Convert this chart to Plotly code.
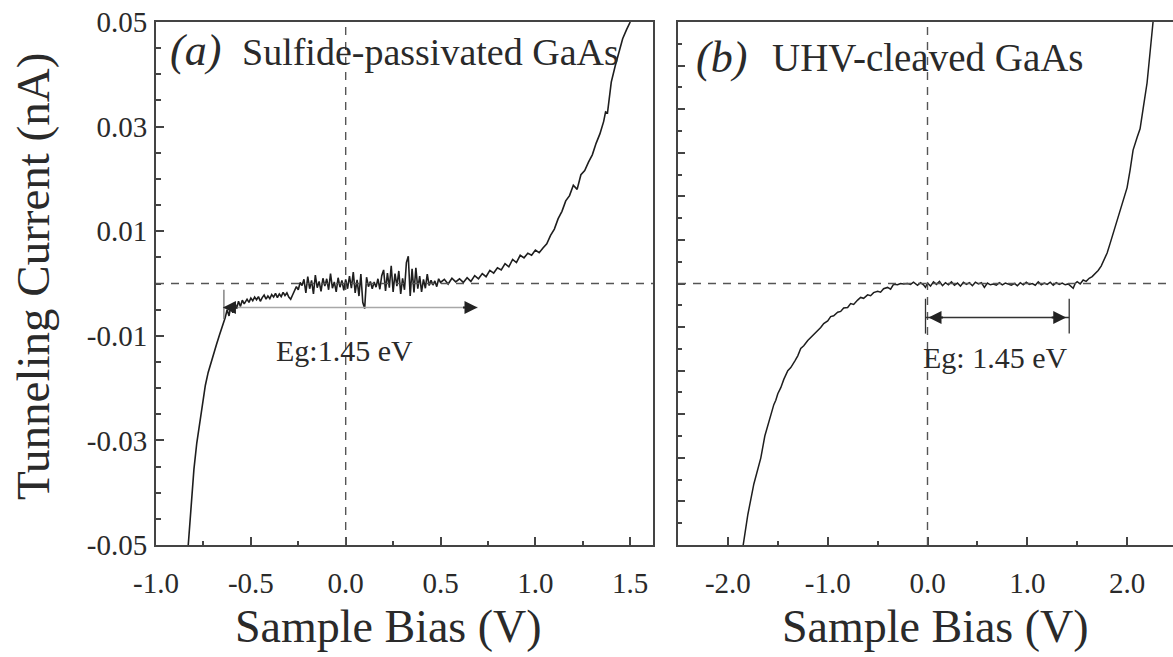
import plotly.graph_objects as go

# ---------------- data ----------------
# Panel (a): sulfide-passivated GaAs  (V, nA)
bias_a = [-0.830, -0.815, -0.800, -0.785, -0.770, -0.755, -0.740, -0.725, -0.710, -0.695,
          -0.680, -0.665, -0.650, -0.635, -0.625, -0.615, -0.605, -0.595, -0.585, -0.575,
          -0.565, -0.555, -0.545, -0.535, -0.52, -0.51, -0.50, -0.49, -0.48, -0.47,
          -0.46, -0.45, -0.44, -0.43, -0.42, -0.41, -0.40, -0.39, -0.38, -0.37,
          -0.36, -0.35, -0.34, -0.33, -0.32, -0.31, -0.30, -0.29, -0.28, -0.27,
          -0.26, -0.25, -0.24, -0.23, -0.22, -0.21, -0.20, -0.19, -0.18, -0.17,
          -0.16, -0.15, -0.14, -0.13, -0.12, -0.11, -0.10, -0.09, -0.08, -0.07,
          -0.06, -0.05, -0.04, -0.03, -0.02, -0.01, 0.00, 0.01, 0.02, 0.03,
          0.04, 0.05, 0.06, 0.07, 0.08, 0.09, 0.10, 0.11, 0.12, 0.13,
          0.14, 0.15, 0.16, 0.17, 0.18, 0.19, 0.20, 0.21, 0.22, 0.23,
          0.24, 0.25, 0.26, 0.27, 0.28, 0.29, 0.30, 0.31, 0.32, 0.33,
          0.34, 0.35, 0.36, 0.37, 0.38, 0.39, 0.40, 0.41, 0.42, 0.43,
          0.44, 0.45, 0.46, 0.47, 0.48, 0.49, 0.50, 0.52, 0.54, 0.56,
          0.58, 0.60, 0.62, 0.64, 0.66, 0.68, 0.70, 0.72, 0.74, 0.76,
          0.78, 0.80, 0.82, 0.84, 0.86, 0.88, 0.90, 0.92, 0.94, 0.96,
          0.98, 1.00, 1.02, 1.04, 1.06, 1.08, 1.10, 1.12, 1.14, 1.16,
          1.18, 1.20, 1.22, 1.24, 1.26, 1.28, 1.30, 1.32, 1.34, 1.36,
          1.37, 1.38, 1.39, 1.40, 1.42, 1.44, 1.46, 1.48, 1.50]
current_a_pA = [-50.0, -42.0, -35.5, -30.5, -27.0, -23.0, -19.5, -17.0, -15.0, -13.2,
                -11.5, -9.8, -8.2, -6.5, -5.0, -6.2, -4.2, -5.6, -3.6, -4.8,
                -3.4, -4.4, -3.2, -3.9, -3.0, -3.6, -2.8, -3.3, -2.6, -3.1,
                -2.5, -3.4, -2.7, -2.2, -3.0, -2.4, -2.9, -2.1, -2.6, -1.9,
                -2.7, -2.0, -2.5, -1.7, -2.3, -1.8, -2.6, -3.0, -2.2, -1.5,
                -0.6, -1.2, 0.2, -0.4, 0.8, -1.8, 1.3, -1.0, 0.6, -2.0,
                1.6, -0.8, 0.4, -1.5, 1.0, -0.5, 0.9, -1.2, 1.9, -0.9,
                0.3, -1.6, 1.1, -0.7, 0.6, -1.3, 0.8, -1.0, 1.4, -0.9,
                2.2, -1.8, 0.7, -2.4, 1.8, -3.6, -4.8, 1.2, -0.6, 0.4,
                -1.0, 0.3, -0.7, 0.9, -1.1, 1.5, 2.6, -1.4, 2.0, -0.8,
                3.4, -1.6, 1.9, -0.5, 2.4, -2.0, 1.0, -1.2, 4.0, 5.2,
                -2.4, 2.8, -1.7, 3.0, -1.0, 1.4, -1.6, 0.8, -0.9, 1.8,
                -0.4, 0.6, -0.3, 0.5, -0.6, 0.9, 0.2, 0.8, -0.1, 1.0,
                0.3, 0.9, 0.2, 1.1, 0.4, 1.5, 0.9, 1.9, 1.3, 2.5,
                2.0, 3.0, 2.6, 3.8, 3.2, 4.6, 4.0, 5.4, 4.9, 5.8,
                5.4, 6.4, 5.9, 6.8, 7.6, 9.2, 10.4, 12.4, 13.8, 15.8,
                16.8, 18.8, 18.0, 20.8, 21.6, 23.2, 24.6, 26.8, 28.6, 31.0,
                32.8, 32.6, 36.0, 38.5, 41.5, 44.0, 46.8, 48.5, 50.0]
current_a = [v / 1000.0 for v in current_a_pA]

# Panel (b): UHV-cleaved GaAs
bias_b = [-1.86, -1.80, -1.74, -1.70, -1.67, -1.63, -1.60, -1.57, -1.54, -1.52,
          -1.50, -1.47, -1.44, -1.40, -1.37, -1.33, -1.30, -1.27, -1.24, -1.20,
          -1.17, -1.14, -1.10, -1.07, -1.04, -1.00, -0.97, -0.94, -0.90, -0.87,
          -0.84, -0.80, -0.77, -0.74, -0.70, -0.67, -0.64, -0.60, -0.57, -0.54,
          -0.50, -0.47, -0.44, -0.40, -0.37, -0.34, -0.30, -0.27, -0.24, -0.20,
          -0.17, -0.14, -0.10, -0.07, -0.04, -0.02, 0.00, 0.03, 0.06, 0.09,
          0.12, 0.15, 0.18, 0.21, 0.24, 0.27, 0.30, 0.33, 0.36, 0.39,
          0.42, 0.45, 0.48, 0.51, 0.54, 0.57, 0.60, 0.63, 0.66, 0.69,
          0.72, 0.75, 0.78, 0.81, 0.84, 0.87, 0.90, 0.93, 0.96, 0.99,
          1.02, 1.05, 1.08, 1.11, 1.14, 1.17, 1.20, 1.23, 1.26, 1.29,
          1.32, 1.35, 1.38, 1.41, 1.44, 1.46, 1.48, 1.50, 1.53, 1.56,
          1.59, 1.62, 1.65, 1.68, 1.71, 1.74, 1.77, 1.80, 1.83, 1.86,
          1.90, 1.93, 1.96, 2.00, 2.03, 2.06, 2.10, 2.13, 2.16, 2.20,
          2.23, 2.26]
current_b_pA = [-62.0, -53.0, -46.0, -42.5, -40.0, -35.0, -32.5, -30.0, -27.8, -26.8,
                -25.3, -23.9, -22.0, -20.0, -19.3, -17.8, -16.6, -14.9, -14.3, -13.1,
                -12.4, -11.8, -10.8, -10.1, -9.2, -8.6, -7.6, -7.4, -6.6, -6.4,
                -5.6, -5.5, -4.6, -4.8, -3.8, -3.2, -3.4, -2.6, -2.8, -2.1,
                -1.8, -2.0, -1.2, -0.9, -1.3, -0.2, -0.3, 0.0, -0.1, 0.0,
                -0.2, 0.3, -0.4, 0.2, -0.3, -0.9, 0.1, -0.6, 0.4, -0.2,
                0.5, -0.5, 0.2, -0.3, 0.4, -0.4, 0.1, -0.6, 0.3, -0.2,
                0.2, -0.5, 0.3, -0.1, 0.2, -0.9, 0.1, -0.3, -0.1, -0.4,
                0.2, -0.3, 0.1, -0.2, -0.4, 0.0, -0.5, 0.2, -0.3, 0.3,
                -0.2, 0.0, -0.4, 0.4, -0.3, 0.1, -0.2, 0.3, -0.4, 0.2,
                -0.2, 0.1, -0.3, -0.1, -0.8, -1.1, 0.0, 0.4, -0.1, 0.8,
                0.5, 1.2, 1.6, 2.2, 3.0, 4.0, 5.4, 7.0, 9.2, 11.5,
                14.5, 16.8, 19.0, 22.0, 26.0, 30.6, 33.5, 35.5, 40.0, 46.0,
                53.0, 60.0]
current_b = [v / 1000.0 for v in current_b_pA]

xticks_a = [-1.0, -0.5, 0.0, 0.5, 1.0, 1.5]
xticklabels_a = ["-1.0", "-0.5", "0.0", "0.5", "1.0", "1.5"]
yticks_a = [-0.05, -0.03, -0.01, 0.01, 0.03, 0.05]
yticklabels_a = ["-0.05", "-0.03", "-0.01", "0.01", "0.03", "0.05"]
xticks_b = [-2.0, -1.0, 0.0, 1.0, 2.0]
xticklabels_b = ["-2.0", "-1.0", "0.0", "1.0", "2.0"]
yticks_b = [-0.06, -0.05, -0.04, -0.03, -0.02, -0.01, 0.0, 0.01, 0.02, 0.03, 0.04, 0.05, 0.06]

# gap markers
gap_a = [-0.647, 0.695]      # arrow ends (V)
gap_a_level = -0.0046
gap_b = [-0.02, 1.42]
gap_b_level = -0.0078

# ---------------- layout helpers ----------------
W, H = 1173, 657
def fx(p):
    return p / W
def fy(p):
    return 1 - p / H

FONT = "Liberation Serif"
TXT = "#2a2a2a"
AX = "#444444"
LINE = "#1e1e1e"

fig = go.Figure()
fig.add_trace(go.Scatter(x=bias_a, y=current_a, mode="lines",
                         line=dict(color=LINE, width=1.6), xaxis="x", yaxis="y",
                         showlegend=False, hoverinfo="skip"))
fig.add_trace(go.Scatter(x=bias_b, y=current_b, mode="lines",
                         line=dict(color=LINE, width=1.5), xaxis="x2", yaxis="y2",
                         showlegend=False, hoverinfo="skip"))

dom_y = [fy(545), fy(22)]
common_ax = dict(showline=True, linecolor=AX, linewidth=2, ticks="inside",
                 tickcolor=AX, tickwidth=1.5, showgrid=False, zeroline=False,
                 automargin=False,
                 tickfont=dict(family=FONT, size=29, color=TXT))

fig.update_layout(
    template="none",
    width=W, height=H, margin=dict(l=0, r=0, t=0, b=0, pad=0, autoexpand=False),
    paper_bgcolor="white", plot_bgcolor="white",
    xaxis=dict(common_ax, domain=[fx(156), fx(653)], range=[-1.0, 1.62],
               tickmode="array", tickvals=xticks_a, ticktext=xticklabels_a,
               ticklen=8, mirror=True, anchor="y", ticklabelstandoff=11,
               minor=dict(dtick=0.25, tick0=0, ticklen=4, ticks="inside",
                          tickcolor=AX, tickwidth=1.5, showgrid=False)),
    yaxis=dict(common_ax, domain=dom_y, range=[-0.05, 0.05],
               tickmode="array", tickvals=yticks_a, ticktext=yticklabels_a,
               ticklen=8, mirror=True, anchor="x", ticklabelstandoff=1,
               minor=dict(dtick=0.005, tick0=0, ticklen=5, ticks="inside",
                          tickcolor=AX, tickwidth=1.5, showgrid=False)),
    xaxis2=dict(common_ax, domain=[fx(678), 1.0], range=[-2.5, 2.46],
                tickmode="array", tickvals=xticks_b, ticktext=xticklabels_b,
                ticklen=8, mirror=True, anchor="y2", ticklabelstandoff=11,
                minor=dict(dtick=0.5, tick0=0, ticklen=4, ticks="inside",
                           tickcolor=AX, tickwidth=1.5, showgrid=False)),
    yaxis2=dict(common_ax, domain=dom_y, range=[-0.06, 0.06],
                tickmode="array", tickvals=yticks_b, showticklabels=False,
                ticklen=7, mirror=False, anchor="x2",
                minor=dict(dtick=0.005, tick0=0, ticklen=4, ticks="inside",
                           tickcolor=AX, tickwidth=1.5, showgrid=False)),
)

DASH = dict(color="#555555", width=1.4, dash="8px,7px")
shapes = [
    dict(type="line", xref="x", yref="y domain", x0=0, x1=0, y0=0, y1=1, line=DASH),
    dict(type="line", xref="x domain", yref="y", x0=0, x1=1, y0=0, y1=0, line=DASH),
    dict(type="line", xref="x2", yref="y2 domain", x0=0, x1=0, y0=0, y1=1, line=DASH),
    dict(type="line", xref="x2 domain", yref="y2", x0=0, x1=1, y0=0, y1=0, line=DASH),
    # panel a gap arrow (grey shaft)
    dict(type="line", xref="x", yref="y", x0=gap_a[0], x1=gap_a[1],
         y0=gap_a_level, y1=gap_a_level, line=dict(color="#a8a8a8", width=1.6)),
    dict(type="line", xref="x", yref="y", x0=gap_a[0] + 0.005, x1=gap_a[0] + 0.005,
         y0=-0.0012, y1=-0.0068, line=dict(color="#666666", width=1.2)),
    # panel b gap arrow
    dict(type="line", xref="x2", yref="y2", x0=gap_b[0], x1=gap_b[1],
         y0=gap_b_level, y1=gap_b_level, line=dict(color="#333333", width=1.4)),
    dict(type="line", xref="x2", yref="y2", x0=gap_b[0], x1=gap_b[0],
         y0=-0.0035, y1=-0.0115, line=dict(color="#333333", width=1.3)),
    dict(type="line", xref="x2", yref="y2", x0=gap_b[1], x1=gap_b[1],
         y0=-0.0035, y1=-0.0115, line=dict(color="#333333", width=1.3)),
]
fig.update_layout(shapes=shapes)

ann = []
# arrow heads
for xr, yr, x, y, ax in [("x", "y", gap_a[0], gap_a_level, 16),
                         ("x", "y", gap_a[1], gap_a_level, -16),
                         ("x2", "y2", gap_b[0] + 0.03, gap_b_level, 16),
                         ("x2", "y2", gap_b[1] - 0.03, gap_b_level, -16)]:
    ann.append(dict(xref=xr, yref=yr, x=x, y=y, ax=ax, ay=0, text="",
                    showarrow=True, arrowhead=2, arrowsize=1.3, arrowwidth=2,
                    arrowcolor="#222222"))

def label(text, x, y, size, xanchor="left", yanchor="middle", angle=0):
    return dict(xref="paper", yref="paper", x=fx(x), y=fy(y), text=text,
                showarrow=False, xanchor=xanchor, yanchor=yanchor, textangle=angle,
                font=dict(family=FONT, size=size, color=TXT))

ann += [
    label("<i>(a)</i>", 168, 50, 44),
    label("Sulfide-passivated GaAs", 240, 52, 38),
    label("<i>(b)</i>", 694, 57, 44),
    label("UHV-cleaved GaAs", 770, 57, 39),
    label("Eg:1.45 eV", 274, 350, 30),
    label("Eg: 1.45 eV", 921, 357, 30),
    label("Sample Bias (V)", 388, 626, 46, xanchor="center"),
    label("Sample Bias (V)", 935, 626, 46, xanchor="center"),
    label("Tunneling Current (nA)", 33, 277, 47, xanchor="center", angle=-90),
]
fig.update_layout(annotations=ann)

fig.write_html("out.html")
